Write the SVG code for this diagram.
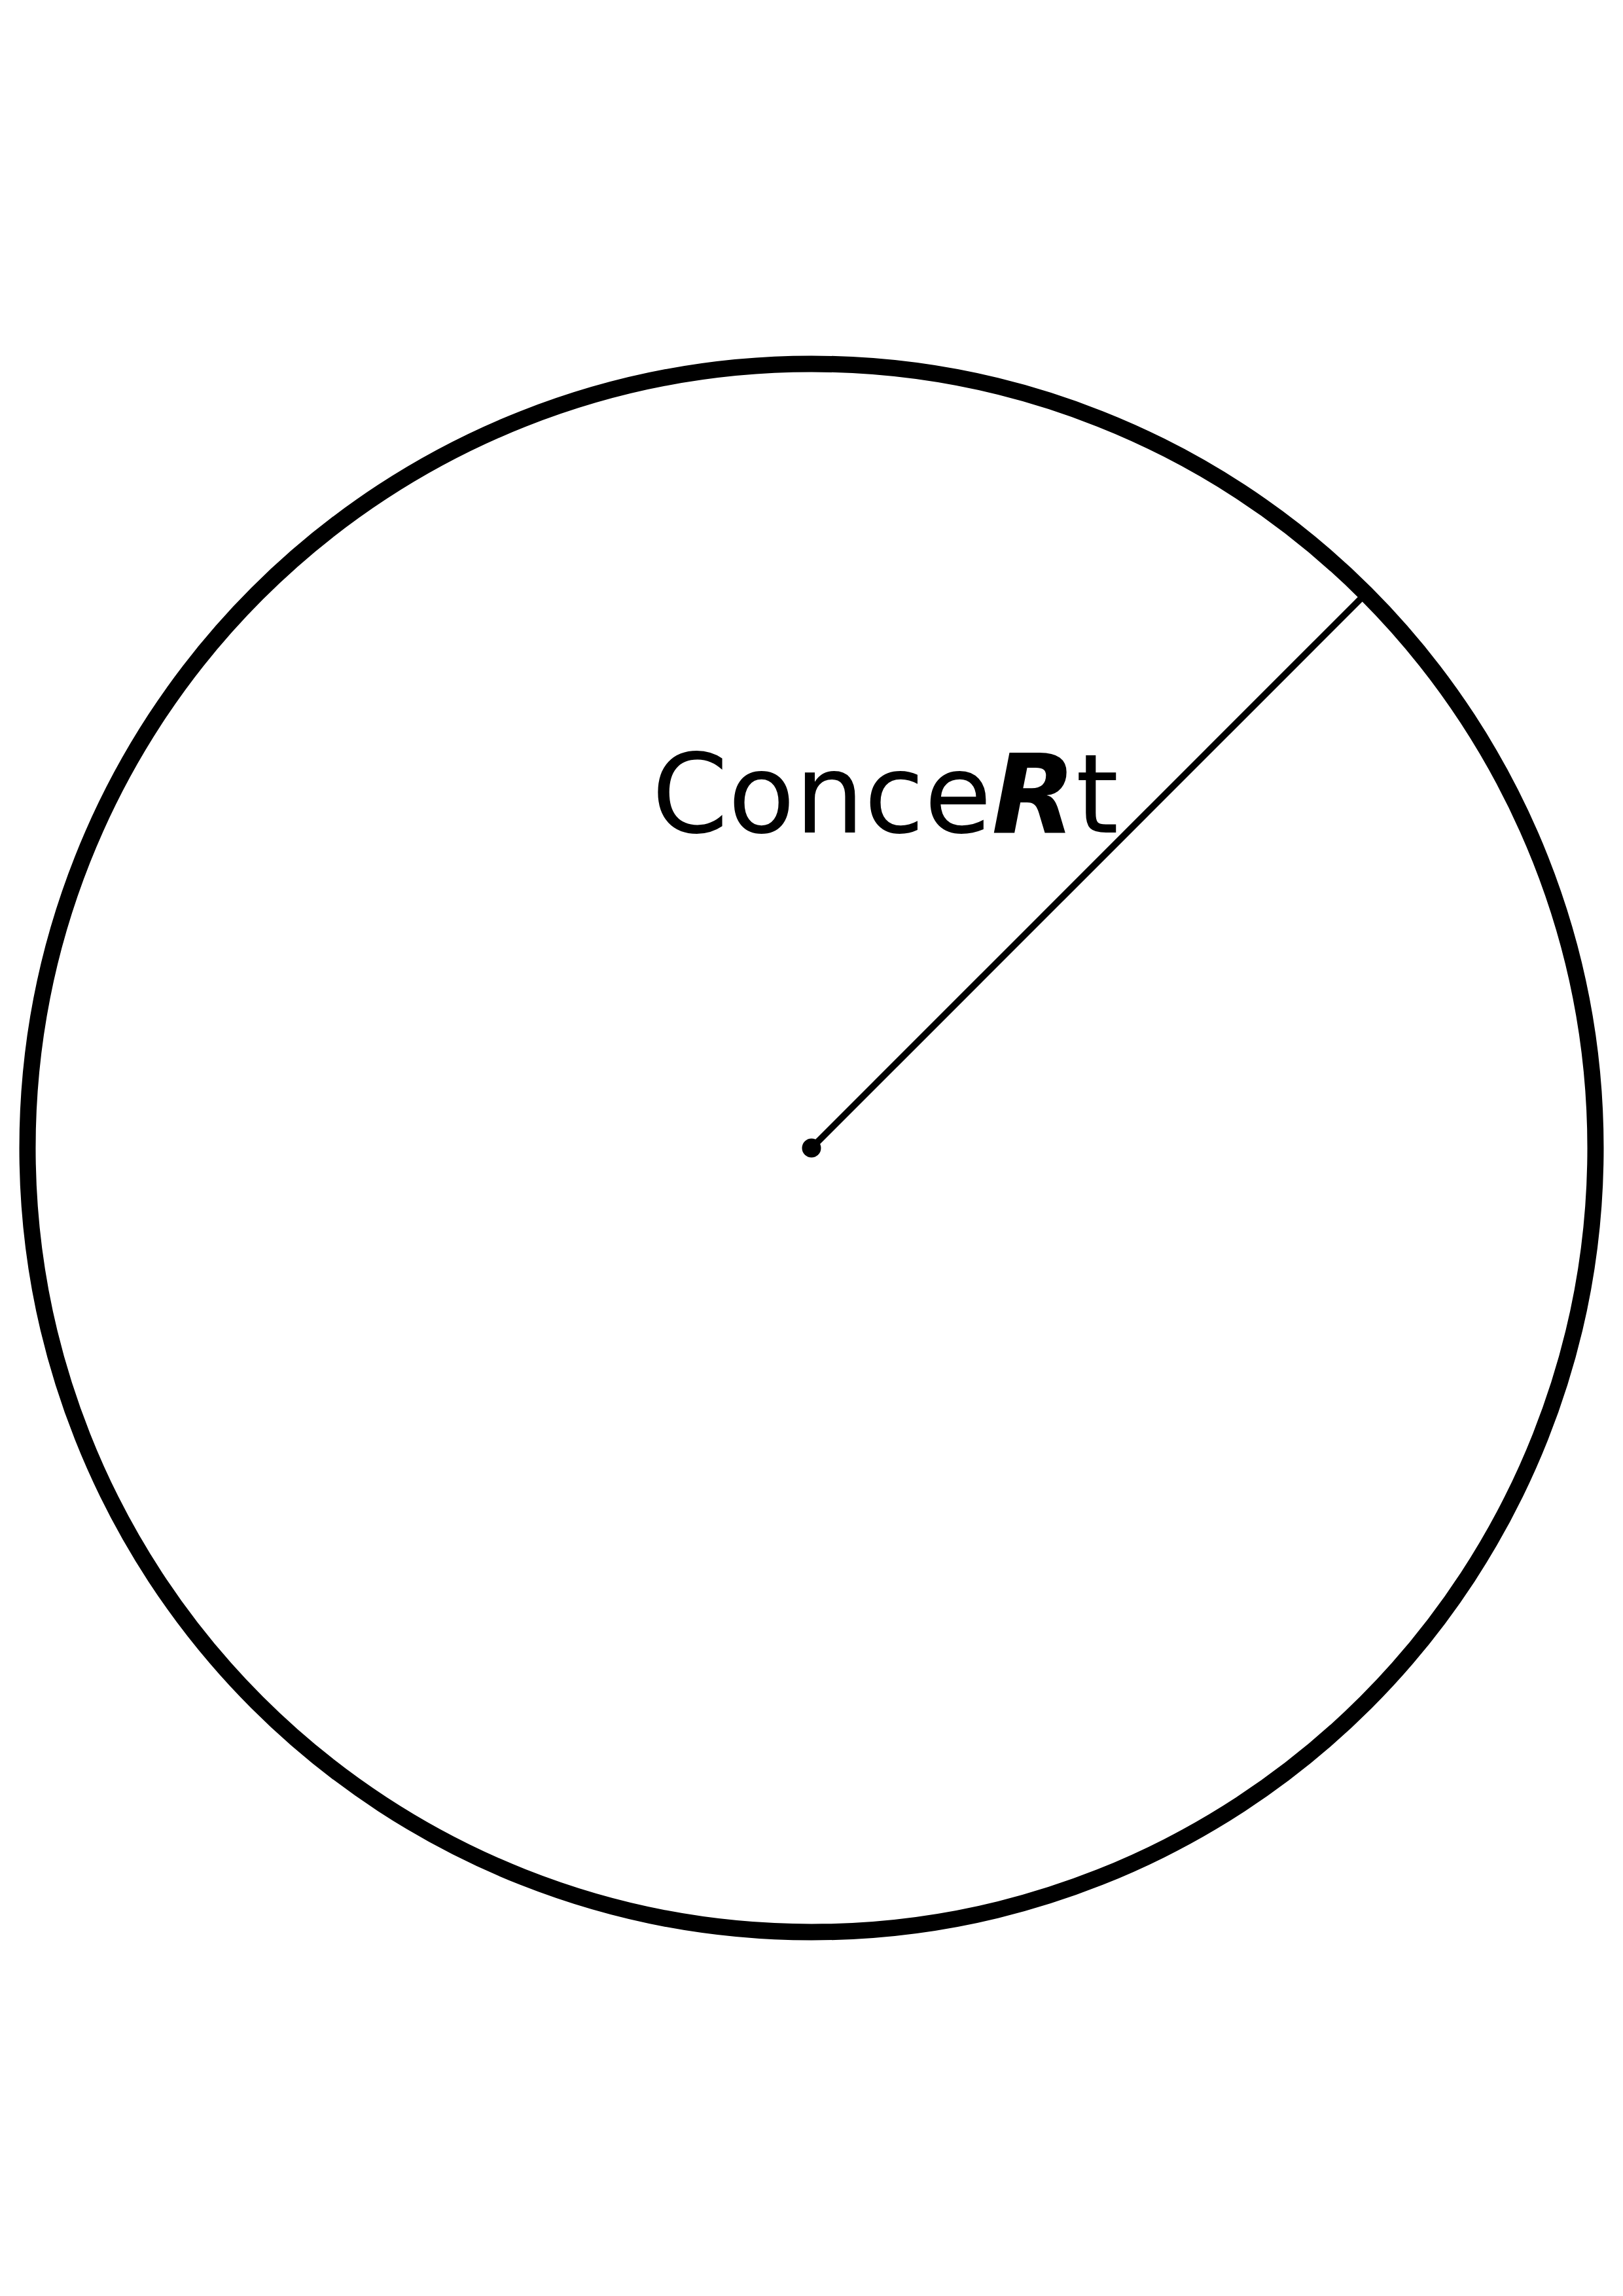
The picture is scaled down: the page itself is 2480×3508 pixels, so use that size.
<svg xmlns="http://www.w3.org/2000/svg" width="2480" height="3508" viewBox="0 0 2480 3508">
<style>
.lbl{font-family:"DejaVu Sans",sans-serif;font-size:167px;fill:#000}
</style>
<rect width="2480" height="3508" fill="#fff"/>
<g id="circle">
<circle cx="1240" cy="1754" r="1198" fill="none" stroke="#000" stroke-width="25"/>
</g>
<g id="connectors">
<line x1="1240" y1="1754" x2="2087" y2="907" stroke="#000" stroke-width="10"/>
</g>
<g id="center">
<circle cx="1240" cy="1754" r="14.5" fill="#000"/>
</g>
<g id="label">
<text class="lbl" x="996" y="1272">Conce<tspan font-weight="bold" font-style="italic">R</tspan>t</text>
</g>
</svg>
